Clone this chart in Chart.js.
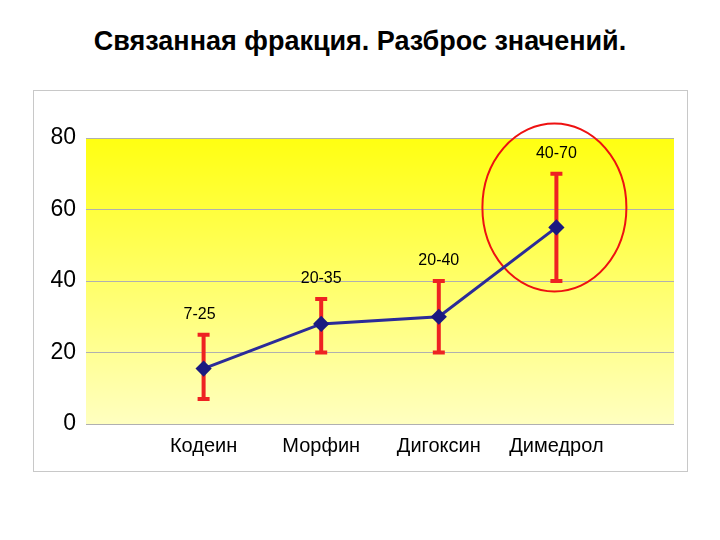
<!DOCTYPE html>
<html><head><meta charset="utf-8">
<script src="https://cdn.jsdelivr.net/npm/chart.js@4"></script>
<style>
body{margin:0;width:720px;height:540px;background:#fff;position:relative;font-family:"Liberation Sans",Arial,sans-serif}
#t{position:absolute;top:26px;left:0;width:720px;text-align:center;font-weight:bold;font-size:27px}
#box{position:absolute;left:33px;top:90px;width:653px;height:380px;border:1px solid #c8c8c8}
</style></head><body>
<div id="t">Связанная фракция. Разброс значений.</div>
<div id="box"><canvas id="c" width="653" height="380"></canvas></div>
<script>
const categories=["Кодеин","Морфин","Дигоксин","Димедрол"];
const means=[15.5,28,30,55];
const lows=[7,20,20,40];
const highs=[25,35,40,70];
const rangeLabels=["7-25","20-35","20-40","40-70"];
const yTicks=[0,20,40,60,80];

const plug={id:'p',
beforeDraw(ch){const a=ch.chartArea,c=ch.ctx;const g=c.createLinearGradient(0,a.top,0,a.bottom);
g.addColorStop(0,'#ffff11');g.addColorStop(1,'#ffffc0');c.fillStyle=g;c.fillRect(a.left,a.top,a.right-a.left,a.bottom-a.top);},
beforeDatasetsDraw(ch){const c=ch.ctx,x=ch.scales.x,y=ch.scales.y;c.save();c.strokeStyle='#ee2222';c.lineWidth=4;
means.forEach((m,i)=>{const px=x.getPixelForValue(i+1),t=y.getPixelForValue(highs[i]),b=y.getPixelForValue(lows[i]);
c.beginPath();c.moveTo(px,t);c.lineTo(px,b);c.moveTo(px-6,t);c.lineTo(px+6,t);c.moveTo(px-6,b);c.lineTo(px+6,b);c.stroke();
c.fillStyle='#000';c.font='16px "Liberation Sans",Arial';c.textAlign='center';c.fillText(rangeLabels[i],px+(i==0?-4:0),t-16);});
const cx=x.getPixelForValue(4),cy=y.getPixelForValue(60);c.strokeStyle='#ee1111';c.lineWidth=2;c.beginPath();c.ellipse(cx-2,cy-2,72,84,0,0,Math.PI*2);c.stroke();c.restore();}};

new Chart(document.getElementById('c'),{type:'line',
data:{datasets:[{data:means.map((v,i)=>({x:i+1,y:v})),borderColor:'#2b2b99',borderWidth:3,pointStyle:'rectRot',pointRadius:6,pointBackgroundColor:'#1a1a80',pointBorderColor:'#1a1a80',tension:0}]},
options:{responsive:false,animation:false,layout:{padding:{top:47,right:13}},
plugins:{legend:{display:false},tooltip:{enabled:false}},
scales:{x:{type:'linear',min:0,max:5,afterBuildTicks(s){s.ticks=[1,2,3,4].map(v=>({value:v}));},
afterFit(s){s.height=47;},grid:{display:false},border:{display:false},
ticks:{callback:v=>categories[v-1],color:'#000',font:{size:20,family:'"Liberation Sans",Arial'},padding:2}},
y:{min:0,max:80,afterBuildTicks(s){s.ticks=yTicks.map(v=>({value:v}));},afterFit(s){s.width=52;},
grid:{color:'#b0b0b0',drawTicks:false},border:{display:false},
ticks:{color:'#000',font:{size:23,family:'"Liberation Sans Narrow","Liberation Sans",Arial'},padding:10}}}},
plugins:[plug]});
</script></body></html>
